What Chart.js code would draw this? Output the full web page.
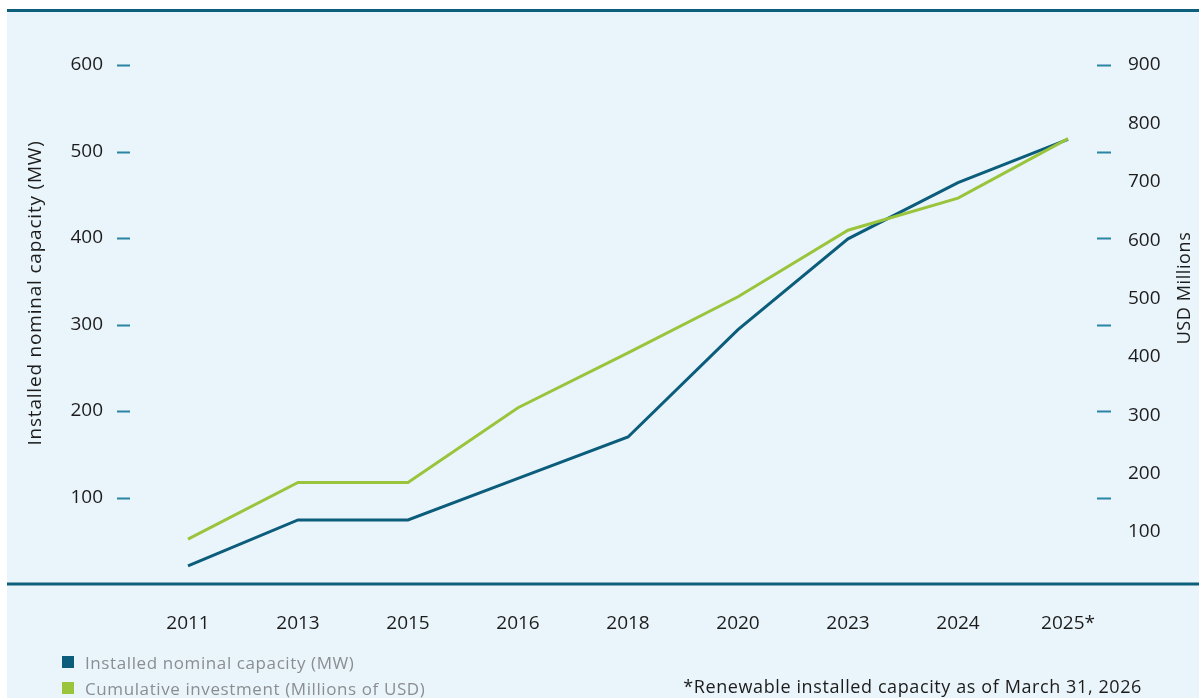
<!DOCTYPE html>
<html>
<head>
<meta charset="utf-8">
<script src="https://cdn.jsdelivr.net/npm/chart.js@4"></script>
<style>
  body { margin: 0; background: #fff; font-family: "Open Sans", sans-serif; }
  #wrap { position: relative; width: 1199px; height: 698px; overflow: hidden; }
  #panel { position: absolute; left: 7px; top: 9px; right: 0; bottom: 0; background: #eaf5fb; border-top: 3px solid #0e5f7b; }
  #myChart { position: absolute; left: 0; top: 0; }
  #legend { position: absolute; left: 62px; top: 649px; font-size: 17px; letter-spacing: 0.6px; color: #8a8e92; }
  .item { display: flex; align-items: center; height: 26px; }
  .box { width: 12px; height: 12px; margin-right: 11px; }
  #note { position: absolute; right: 57px; top: 674px; font-size: 18px; letter-spacing: 0.6px; color: #1c1c1c; }
</style>
</head>
<body>
<div id="wrap">
  <div id="panel"></div>
  <canvas id="myChart" width="1199" height="698"></canvas>
  <div id="legend"></div>
  <div id="note">*Renewable installed capacity as of March 31, 2026</div>
</div>
<script>
// data
var years = ['2011', '2013', '2015', '2016', '2018', '2020', '2023', '2024', '2025*'];
var capacityMW = [21, 74, 74, 122, 170, 294, 399, 464, 514];
var investmentUSD = [88, 185, 185, 313, 407, 503, 617, 672, 774];
var leftTicks = [100, 200, 300, 400, 500, 600];
var rightTicks = [100, 200, 300, 400, 500, 600, 700, 800, 900];
var seriesNames = ['Installed nominal capacity (MW)', 'Cumulative investment (Millions of USD)'];
var seriesColors = ['#0b5d7b', '#9bc43d'];

var tickFont = { family: 'Open Sans', size: 19 };

// axis line, short tick dashes and the two axis titles
var decorations = {
  id: 'decorations',
  afterDraw: function (chart) {
    var ctx = chart.ctx;
    var y = chart.scales.y;
    var area = chart.chartArea;
    ctx.save();
    ctx.strokeStyle = '#0e5f7b';
    ctx.lineWidth = 3;
    ctx.beginPath();
    ctx.moveTo(7, area.bottom);
    ctx.lineTo(1199, area.bottom);
    ctx.stroke();

    ctx.strokeStyle = '#2a84a3';
    ctx.lineWidth = 2;
    leftTicks.forEach(function (v) {
      var py = Math.round(y.getPixelForValue(v)) + 0.5;
      ctx.beginPath();
      ctx.moveTo(117, py); ctx.lineTo(130, py);
      ctx.moveTo(1097, py); ctx.lineTo(1111, py);
      ctx.stroke();
    });

    ctx.fillStyle = '#1c1c1c';
    ctx.font = '19px "Open Sans"';
    ctx.letterSpacing = '0.8px';
    ctx.textAlign = 'center';
    ctx.textBaseline = 'middle';
    ctx.translate(36, 293);
    ctx.rotate(-Math.PI / 2);
    ctx.fillText('Installed nominal capacity (MW)', 0, 0);
    ctx.restore();

    ctx.save();
    ctx.fillStyle = '#1c1c1c';
    ctx.font = '18px "Open Sans"';
    ctx.letterSpacing = '0.6px';
    ctx.textAlign = 'center';
    ctx.textBaseline = 'middle';
    ctx.translate(1185, 288);
    ctx.rotate(-Math.PI / 2);
    ctx.fillText('USD Millions', 0, 0);
    ctx.restore();
  }
};

var config = {
  type: 'line',
  data: {
    labels: years,
    datasets: [{
      label: seriesNames[0],
      data: capacityMW,
      borderColor: seriesColors[0],
      backgroundColor: seriesColors[0],
      borderWidth: 3,
      pointRadius: 0,
      tension: 0,
      yAxisID: 'y',
      order: 2
    }, {
      label: seriesNames[1],
      data: investmentUSD,
      borderColor: seriesColors[1],
      backgroundColor: seriesColors[1],
      borderWidth: 3,
      pointRadius: 0,
      tension: 0,
      yAxisID: 'y1',
      order: 1
    }]
  },
  options: {
    responsive: false,
    animation: false,
    layout: { padding: { top: 65, left: 0, right: 0, bottom: 0 } },
    plugins: {
      legend: { display: false },
      tooltip: { enabled: false }
    },
    scales: {
      x: {
        offset: true,
        grid: { display: false, drawTicks: false },
        border: { display: false },
        ticks: { font: tickFont, color: '#1c1c1c', padding: 28, maxRotation: 0 },
        afterFit: function (scale) { scale.height = 114; }
      },
      y: {
        position: 'left',
        min: 0,
        max: 600,
        grid: { display: false, drawTicks: false },
        border: { display: false },
        ticks: { font: tickFont, color: '#1c1c1c', padding: 30 },
        afterBuildTicks: function (scale) {
          scale.ticks = leftTicks.map(function (v) { return { value: v }; });
        },
        afterFit: function (scale) { scale.width = 133; }
      },
      y1: {
        position: 'right',
        min: 11,
        max: 900,
        grid: { display: false, drawTicks: false },
        border: { display: false },
        ticks: { font: tickFont, color: '#1c1c1c', padding: 5 },
        afterBuildTicks: function (scale) {
          scale.ticks = rightTicks.map(function (v) { return { value: v }; });
        },
        afterFit: function (scale) { scale.width = 76; }
      }
    }
  },
  plugins: [decorations]
};

var myChart = new Chart(document.getElementById('myChart'), config);

// legend below the chart
var legend = document.getElementById('legend');
seriesNames.forEach(function (name, i) {
  var row = document.createElement('div');
  row.className = 'item';
  row.innerHTML = '<span class="box" style="background:' + seriesColors[i] + '"></span>' + name;
  legend.appendChild(row);
});
</script>
</body>
</html>
